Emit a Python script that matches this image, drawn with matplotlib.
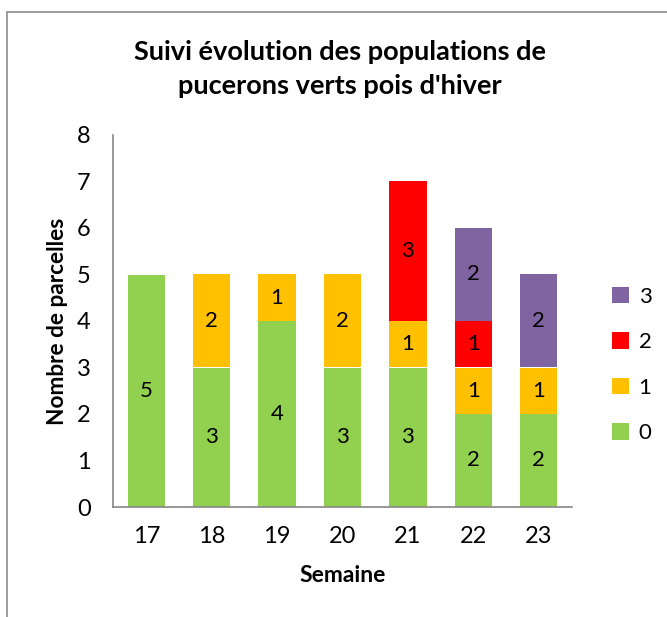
import numpy as np
import matplotlib.pyplot as plt
from matplotlib.patches import Rectangle

# data to plot
weeks = ['17', '18', '19', '20', '21', '22', '23']
levels = ['0', '1', '2', '3']
counts = {
    '0': [5, 3, 4, 3, 3, 2, 2],
    '1': [0, 2, 1, 2, 1, 1, 1],
    '2': [0, 0, 0, 0, 3, 1, 0],
    '3': [0, 0, 0, 0, 0, 2, 2],
}
colors = {'0': '#92D050', '1': '#FFC000', '2': '#FF0000', '3': '#8064A2'}

plt.rcParams['font.family'] = ['Lato', 'DejaVu Sans']

fig = plt.figure(figsize=(6.67, 6.17), dpi=100)
ax = fig.add_axes([113 / 667, 1 - 507 / 617, (572 - 113) / 667, (507 - 135) / 617])

# outer frame (only the top and left edges are visible in the reference)
fig.patches.append(Rectangle((7 / 667, -0.1), 1.2, 1.1 - 12 / 617,
                             transform=fig.transFigure, fill=False,
                             edgecolor='#8c8c8c', linewidth=1.2))

index = np.arange(len(weeks))
bar_width = 0.57
bottom = np.zeros(len(weeks))
handles = {}
for lvl in levels:
    vals = np.array(counts[lvl])
    bars = ax.bar(index, vals, bar_width, bottom=bottom, color=colors[lvl],
                  label=lvl, zorder=2)
    handles[lvl] = bars
    for x, v, b in zip(index, vals, bottom):
        if v > 0:
            ax.text(x, b + v / 2, str(v), ha='center', va='center',
                    fontsize=16, color='black')
    bottom = bottom + vals

ax.set_xlim(-0.51, 6.51)
ax.set_ylim(0, 8)
ax.set_yticks(range(0, 9))
ax.set_xticks(index)
ax.set_xticklabels(weeks)
ax.tick_params(axis='both', length=0, labelsize=17)
ax.tick_params(axis='y', pad=16)
ax.tick_params(axis='x', pad=14)
for s in ['top', 'right']:
    ax.spines[s].set_visible(False)
for s in ['left', 'bottom']:
    ax.spines[s].set_color('#868686')
    ax.spines[s].set_linewidth(1.2)

ax.set_xlabel('Semaine', fontsize=16.5, fontweight='bold', labelpad=13)
fig.text(58 / 667, 1 - 321 / 617, 'Nombre de parcelles', rotation=90,
         ha='center', va='center', fontsize=16.3, fontweight='bold')

fig.text(340 / 667, 1 - 69 / 617,
         'Suivi évolution des populations de\npucerons verts pois d\'hiver',
         ha='center', va='center', fontsize=19.5, fontweight='bold',
         linespacing=1.45)

leg = fig.legend([handles[l] for l in levels[::-1]], levels[::-1],
                 loc='center left', bbox_to_anchor=(612 / 667, 1 - 365 / 617),
                 frameon=False, fontsize=16, handlelength=0.75, handleheight=0.75,
                 labelspacing=1.15, handletextpad=0.45, borderpad=0,
                 borderaxespad=0)

plt.savefig('out.png', dpi=100)
